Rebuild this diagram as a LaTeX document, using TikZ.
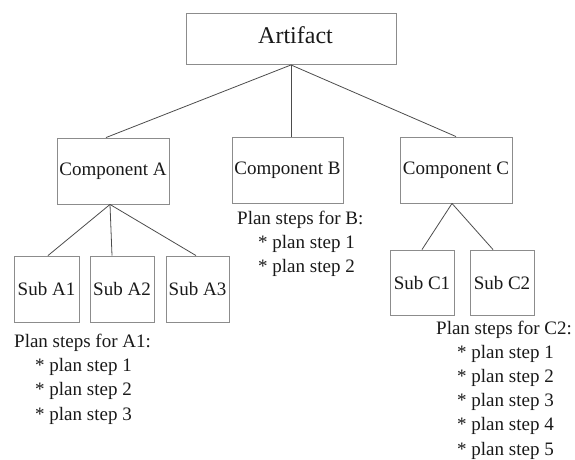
\documentclass[tikz,border=0pt]{standalone}
\usepackage{fontspec}
\setmainfont{Liberation Serif}
\begin{document}
\begin{tikzpicture}[x=1pt,y=-1pt,
    box/.style={draw=black!45,line width=0.9pt,inner sep=0pt,text=black!90,
        font=\fontsize{19}{23.5}\selectfont},
    comp/.style={box,minimum width=112pt,minimum height=66pt},
    sub/.style={box,minimum width=64pt,minimum height=66pt},
    link/.style={draw=black!70,line width=0.8pt},
    plan/.style={align=left,inner sep=0pt,anchor=north west,text=black!90,
        font=\fontsize{19}{24.2}\selectfont}]
    \useasboundingbox (0,0) rectangle (575,459);
    \node[box,minimum width=210pt,minimum height=51pt,text depth=7pt,
        font=\fontsize{24}{28}\selectfont] (art) at (291,39) {\hspace*{9pt}Artifact};
    \node[comp] (compA) at (113,171) {Component A};
    \node[comp,minimum width=111pt] (compB) at (287.5,170) {Component B};
    \node[comp] (compC) at (456,170) {Component C};
    \node[sub,minimum width=65pt] (subA1) at (46.5,289) {Sub A1};
    \node[sub] (subA2) at (122,289) {Sub A2};
    \node[sub,minimum width=63pt] (subA3) at (197.5,289) {Sub A3};
    \node[sub,minimum height=65pt] (subC1) at (422,282.5) {Sub C1};
    \node[sub,minimum height=65pt] (subC2) at (502,282.5) {Sub C2};
    \draw[link] (art.south) -- ([xshift=-7pt]compA.north);
    \draw[link] (art.south) -- (art.south |- compB.north);
    \draw[link] (art.south) -- (compC.north);
    \coordinate (rootA) at ([xshift=-3pt]compA.south);
    \draw[link] (rootA) -- ([xshift=1.5pt]subA1.north);
    \draw[link] (rootA) -- ([xshift=-10pt]subA2.north);
    \draw[link] (rootA) -- ([xshift=-1.5pt]subA3.north);
    \coordinate (rootC) at ([xshift=-4pt]compC.south);
    \draw[link] (rootC) -- (subC1.north);
    \draw[link] (rootC) -- ([xshift=-9pt]subC2.north);
    \node[plan] (planA) at (14,334) {Plan steps for A1:\\
        \hspace*{21pt}* plan step 1\\
        \hspace*{21pt}* plan step 2\\
        \hspace*{21pt}* plan step 3};
    \node[plan] (planB) at (237,211) {Plan steps for B:\\
        \hspace*{21pt}* plan step 1\\
        \hspace*{21pt}* plan step 2};
    \node[plan] (planC) at (436,320.5) {Plan steps for C2:\\
        \hspace*{21pt}* plan step 1\\
        \hspace*{21pt}* plan step 2\\
        \hspace*{21pt}* plan step 3\\
        \hspace*{21pt}* plan step 4\\
        \hspace*{21pt}* plan step 5};
\end{tikzpicture}
\end{document}
